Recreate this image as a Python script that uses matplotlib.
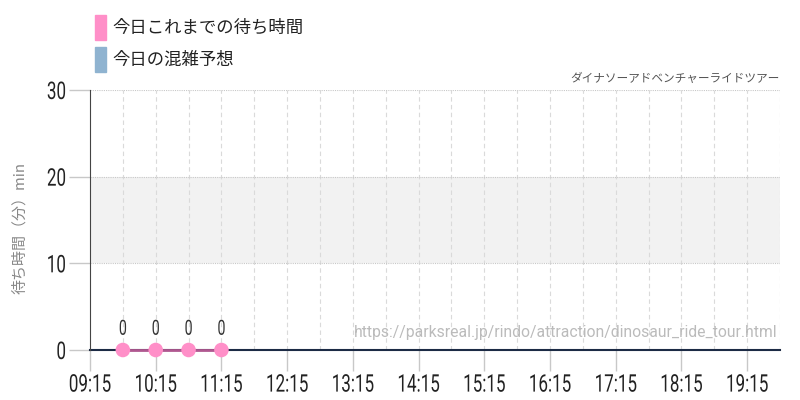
import matplotlib
matplotlib.use("Agg")
import matplotlib.pyplot as plt
import matplotlib.patches as mpatches
from matplotlib import font_manager
from matplotlib.patheffects import AbstractPathEffect
from matplotlib.transforms import Affine2D

# data
times = ["09:45", "10:15", "10:45", "11:15"]
waits = [0, 0, 0, 0]
tick_labels = ["09:15", "10:15", "11:15", "12:15", "13:15", "14:15",
               "15:15", "16:15", "17:15", "18:15", "19:15"]
y_ticks = [0, 10, 20, 30]
band = [10, 20]
title = "ダイナソーアドベンチャーライドツアー"
url = "https://parksreal.jp/rindo/attraction/dinosaur_ride_tour.html"
legend_labels = ["今日これまでの待ち時間", "今日の混雑予想"]


def to_h(s):
    h, m = s.split(":")
    return int(h) + int(m) / 60.0


# squeeze text horizontally (no condensed font installed)
class Squeeze(AbstractPathEffect):
    def __init__(self, sx=0.7, anchor="center"):
        super().__init__()
        self.sx = sx
        self.anchor = anchor

    def draw_path(self, renderer, gc, tpath, affine, rgbFace=None):
        ext = affine.transform_path(tpath).get_extents()
        if self.anchor == "right":
            cx = ext.x1
        elif self.anchor == "left":
            cx = ext.x0
        else:
            cx = (ext.x0 + ext.x1) / 2
        aff = affine + Affine2D().translate(-cx, 0).scale(self.sx, 1).translate(cx, 0)
        renderer.draw_path(gc, tpath, aff, rgbFace)


names = {f.name for f in font_manager.fontManager.ttflist}
num_font = "Roboto" if "Roboto" in names else "DejaVu Sans"
jp = ["Noto Sans CJK JP", "DejaVu Sans"]

fig = plt.figure(figsize=(8, 4), dpi=100)
ax = fig.add_axes([90 / 800, 50 / 400, 690 / 800, 260 / 400])

x0, x1 = to_h("09:15"), to_h("19:45")
ax.set_xlim(x0, x1)
ax.set_ylim(0, 30)

ax.axhspan(band[0], band[1], color="#f2f2f2", zorder=0, lw=0)

# grid
h = x0 + 0.5
while h <= x1 + 1e-6:
    ax.axvline(h, color="#dadada", lw=0.8, ls=(0, (4, 3)), zorder=1)
    h += 0.5
for yv in y_ticks[1:]:
    ax.axhline(yv, color="#c8c8c8", lw=0.8, ls=(0, (1, 1)), zorder=1)

xs = [to_h(t) for t in times]
ax.plot(xs, waits, color="#b05890", lw=2, zorder=3, clip_on=False)
ax.scatter(xs, waits, s=110, color="#ff8fc8", zorder=4, clip_on=False, edgecolors="none")
for x, v in zip(xs, waits):
    ax.text(x, v + 1.3, str(v), ha="center", va="bottom", fontsize=15,
            family=num_font, color="#333333", path_effects=[Squeeze(0.68)])

ax.set_xticks([to_h(t) for t in tick_labels])
ax.set_xticklabels(tick_labels)
ax.set_yticks(y_ticks)
ax.tick_params(axis="both", length=15, width=1, color="#c8c8c8",
               labelsize=17.5, labelcolor="#222222", pad=2)
for lab in ax.get_xticklabels():
    lab.set_family(num_font)
    lab.set_path_effects([Squeeze(0.7)])
for lab in ax.get_yticklabels():
    lab.set_family(num_font)
    lab.set_path_effects([Squeeze(0.7, "right")])

for s in ["top", "right"]:
    ax.spines[s].set_visible(False)
ax.spines["left"].set_color("#444444")
ax.spines["bottom"].set_color("#1c2b45")
ax.spines["bottom"].set_linewidth(1.5)
ax.spines["bottom"].set_zorder(2)

fig.text(20 / 800, 1 - 228 / 400, "待ち時間（分）min", family=jp, fontsize=10.8,
         color="#888888", rotation=90, ha="center", va="center")

ax.text(1.0, 1.02, title, transform=ax.transAxes, ha="right", va="bottom",
        family=jp, fontsize=8.4, color="#555555")
ax.text(0.997, 0.04, url, transform=ax.transAxes, ha="right", va="bottom",
        family=num_font, fontsize=11.3, color="#bbbbbb", zorder=2)

# legend
colors = ["#ff8fc8", "#8fb3d0"]
for i, (lab, c) in enumerate(zip(legend_labels, colors)):
    ytop = 15 + i * 32
    fig.patches.append(mpatches.Rectangle((95 / 800, 1 - (ytop + 25) / 400), 11 / 800, 25 / 400,
                                          transform=fig.transFigure, color=c))
    fig.text(112 / 800, 1 - (ytop + 12.5) / 400, lab, family=jp, fontsize=12.5,
             color="#222222", va="center", ha="left")

fig.savefig("out.png", dpi=100)
